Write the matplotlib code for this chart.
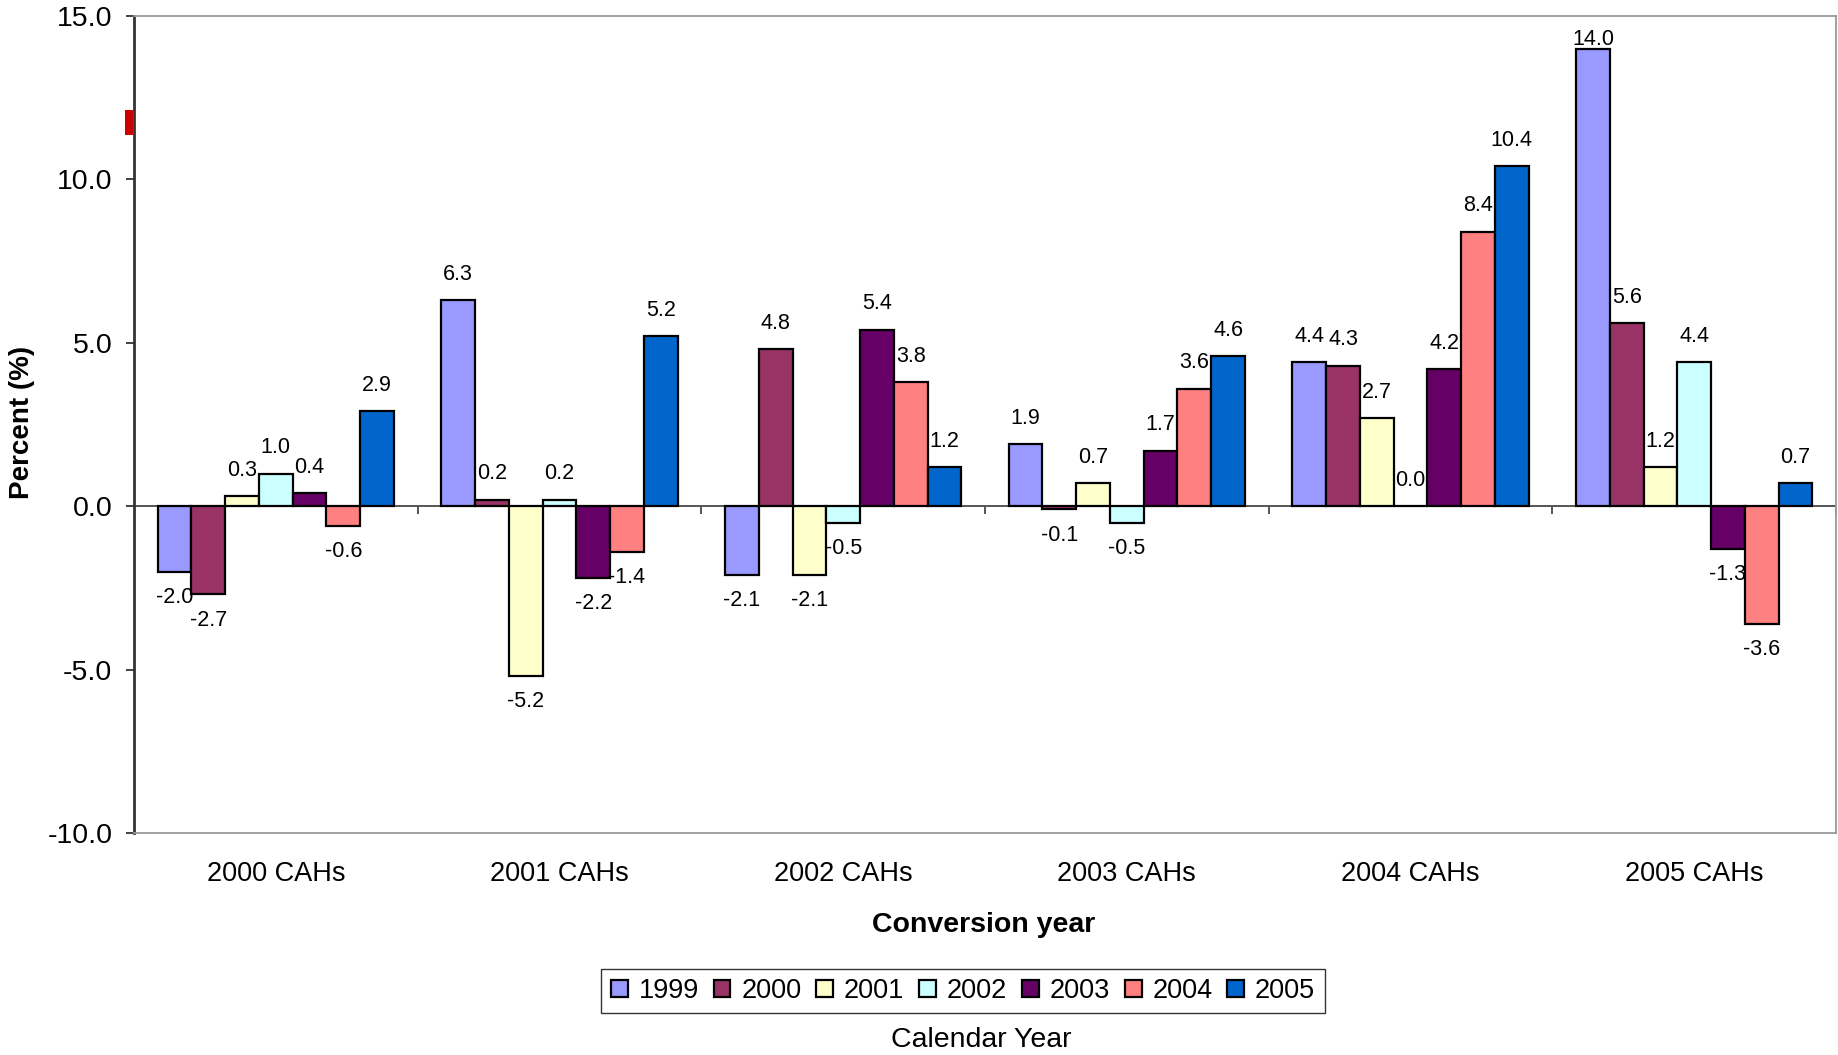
import matplotlib
matplotlib.use("Agg")
import matplotlib.pyplot as plt
import numpy as np
from matplotlib.patches import Rectangle

plt.rcParams['font.family'] = ['Liberation Sans', 'DejaVu Sans']

categories = ["2000 CAHs", "2001 CAHs", "2002 CAHs", "2003 CAHs", "2004 CAHs", "2005 CAHs"]
series_names = ["1999", "2000", "2001", "2002", "2003", "2004", "2005"]
s1999 = [-2.0, 6.3, -2.1, 1.9, 4.4, 14.0]
s2000 = [-2.7, 0.2, 4.8, -0.1, 4.3, 5.6]
s2001 = [0.3, -5.2, -2.1, 0.7, 2.7, 1.2]
s2002 = [1.0, 0.2, -0.5, -0.5, 0.0, 4.4]
s2003 = [0.4, -2.2, 5.4, 1.7, 4.2, -1.3]
s2004 = [-0.6, -1.4, 3.8, 3.6, 8.4, -3.6]
s2005 = [2.9, 5.2, 1.2, 4.6, 10.4, 0.7]
series = [s1999, s2000, s2001, s2002, s2003, s2004, s2005]
colors = ["#9999FF", "#993366", "#FFFFCC", "#CCFFFF", "#660066", "#FF8080", "#0066CC"]
yticks = [-10, -5, 0, 5, 10, 15]

W, H = 1838, 1055
fig = plt.figure(figsize=(W/100, H/100), dpi=100)
ax = fig.add_axes([134/W, 1-833/H, (1836-134)/W, (833-16)/H])

YMIN, YMAX = -10, 15
ax.set_xlim(-0.5, len(categories) - 0.5)
ax.set_ylim(YMIN, YMAX)

# points per data unit (for keeping labels inside the plot area)
ax_h_pt = (833 - 16) * 0.72
pt_per_unit = ax_h_pt / (YMAX - YMIN)
lab_fs = 15.5
lab_h = lab_fs * 1.15

n = len(series)
bw = 0.119
x = np.arange(len(categories))
handles = []
for i, (vals, c, name) in enumerate(zip(series, colors, series_names)):
    pos = x + (i - (n-1)/2) * bw
    b = ax.bar(pos, vals, width=bw, color=c, edgecolor='black', linewidth=1.6, label=name, zorder=3)
    handles.append(b)
    for xp, v in zip(pos, vals):
        if v >= 0:
            space = (YMAX - v) * pt_per_unit
            off = 11 if space - lab_h >= 11 else -1
            ax.annotate(f"{v:.1f}", (xp, v), xytext=(0, off), textcoords='offset points',
                        ha='center', va='bottom', fontsize=lab_fs, zorder=5)
        else:
            ax.annotate(f"{v:.1f}", (xp, v), xytext=(0, -11), textcoords='offset points',
                        ha='center', va='top', fontsize=lab_fs, zorder=5)

ax.set_yticks(yticks)
ax.set_yticklabels([f"{t:.1f}" for t in yticks], fontsize=20.5)
ax.tick_params(axis='y', direction='out', length=5.5, width=1.3, color='#333333', pad=10)

# zero line with category boundary ticks
ax.axhline(0, color='#555555', linewidth=1.4, zorder=2)
bounds = np.arange(len(categories) + 1) - 0.5
ax.vlines(bounds, -0.25, 0, color='#555555', linewidth=1.4, zorder=2)

ax.set_xticks(x)
ax.set_xticklabels(categories, fontsize=19.5)
ax.tick_params(axis='x', length=0, pad=20.5)

for s in ['top', 'right', 'bottom']:
    ax.spines[s].set_color('#999999')
    ax.spines[s].set_linewidth(1.3)
ax.spines['left'].set_color('#333333')
ax.spines['left'].set_linewidth(2)

fig.text(22/W, 1-422/H, "Percent (%)", rotation=90, ha='center', va='center',
         fontsize=20, fontweight='bold')
fig.text(984/W, 1-925/H, "Conversion year", ha='center', va='center',
         fontsize=20.5, fontweight='bold')

leg = fig.legend(handles=handles, labels=series_names, loc='center', bbox_to_anchor=(963/W, 1-991/H),
                 ncol=7, fontsize=19.5, frameon=True, fancybox=False, edgecolor='black',
                 handlelength=0.62, handleheight=0.55, handletextpad=0.4, columnspacing=0.55,
                 borderpad=0.35, borderaxespad=0)
leg.get_frame().set_linewidth(1.0)

fig.text(981/W, 1-1040/H, "Calendar Year", ha='center', va='center', fontsize=20.5)

fig.patches.append(Rectangle((125/W, 1-135/H), 8/W, 25/H, transform=fig.transFigure,
                             facecolor='#CC0000', edgecolor='none', figure=fig))

fig.savefig("out.png", dpi=100)
